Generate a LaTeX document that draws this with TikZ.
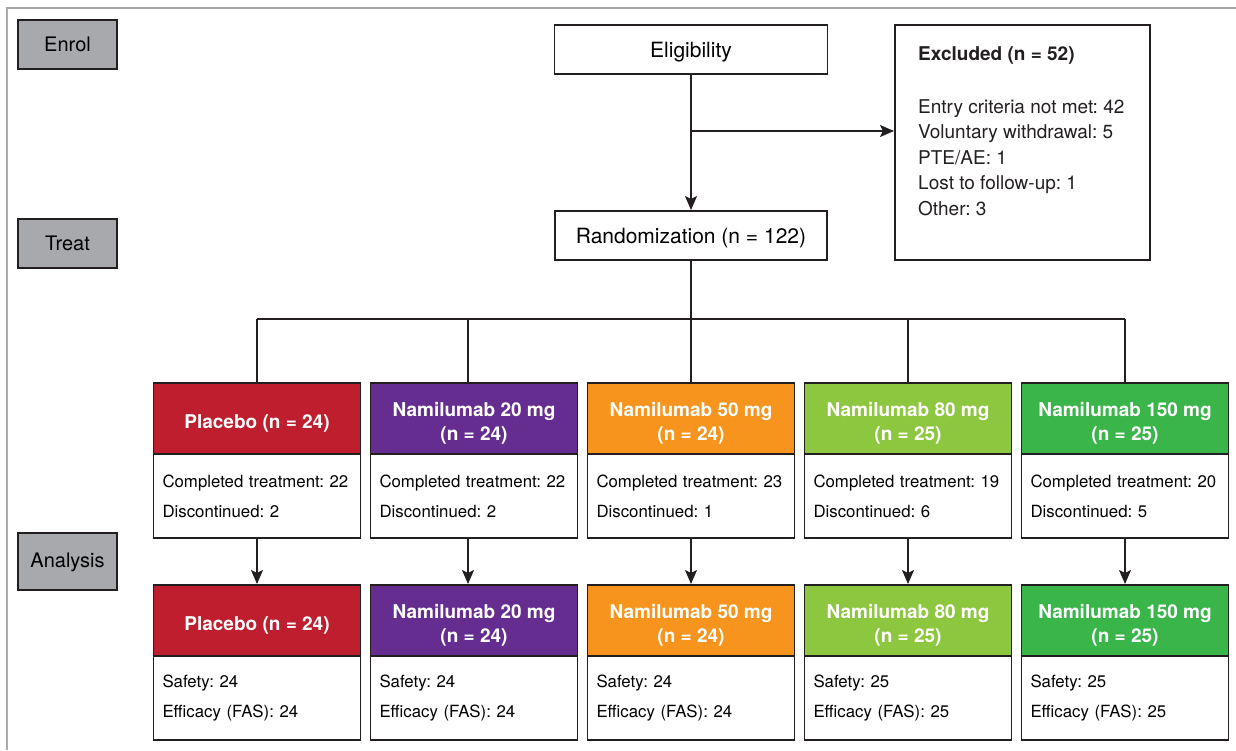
\documentclass[tikz,border=0pt]{standalone}
\usepackage{fontspec}
\setmainfont{TeX Gyre Heros}
\usepackage{tikz}
\usetikzlibrary{positioning}
\usetikzlibrary{arrows.meta}

\definecolor{inkblack}{RGB}{35,31,32}
\definecolor{framegray}{RGB}{170,170,170}
\definecolor{stagegray}{RGB}{167,169,172}
\definecolor{placebored}{RGB}{190,30,45}
\definecolor{nampurple}{RGB}{102,45,145}
\definecolor{namorange}{RGB}{247,148,29}
\definecolor{namlime}{RGB}{141,198,63}
\definecolor{namgreen}{RGB}{57,181,74}

\frenchspacing

\begin{document}
\begin{tikzpicture}[%
    x=1pt, y=-1pt,
    >={Stealth[length=14pt,width=12pt,inset=3pt]},
    stage/.style={%
      rectangle,
      draw=inkblack,
      fill=stagegray,
      line width=1.3pt,
      minimum width=99pt,
      minimum height=49pt,
      outer sep=0pt,
      font=\fontsize{20}{24}\selectfont
    },
    flowbox/.style={%
      rectangle,
      draw=inkblack,
      line width=1.3pt,
      minimum height=49pt,
      outer sep=0pt,
      execute at begin node={\rule{0pt}{21pt}},
      font=\fontsize{21}{25}\selectfont
    },
    armhead/.style={%
      rectangle,
      draw=inkblack,
      line width=1.3pt,
      minimum width=207pt,
      minimum height=71pt,
      outer sep=0pt,
      text=white,
      align=center,
      font=\bfseries\fontsize{19}{24}\selectfont
    },
    onehead/.style={armhead, execute at begin node={\rule{0pt}{23pt}}},
    twohead/.style={armhead, execute at begin node={\rule{0pt}{47pt}}},
    armbody/.style={%
      rectangle,
      draw=inkblack,
      fill=white,
      line width=1.3pt,
      minimum width=207pt,
      minimum height=84pt,
      text width=189pt,
      inner xsep=9pt,
      outer sep=0pt,
      align=left,
      font=\fontsize{16.8}{30}\selectfont
    },
    link/.style={draw=inkblack, line width=1.5pt},
    arrowlink/.style={link, ->, shorten >=1pt}
  ]
  \useasboundingbox (0,0) rectangle (1236,750);
  \draw[framegray, line width=2pt] (7,750) -- (7,8) -- (1236,8);
  % Nodes: stages
    \node[stage] (enrol) at (67.5,44.5)              {Enrol};
    \node[stage] (treat) [below=150pt of enrol]      {Treat};
    \node[stage, minimum height=57pt] (analysis) [below=265pt of treat] {\rule{0pt}{17pt}Analysis};
  % Nodes: enrolment
    \node[flowbox, minimum width=273pt] (elig) at (691,49.5) {Eligibility};
    \node[flowbox, minimum width=272pt] (rand) [below=137pt of elig] {Randomization (n = 122)};
    \node[rectangle, draw=inkblack, line width=1.3pt, minimum width=255pt,
          minimum height=235pt, outer sep=0pt] (exclbox)
          [below right=0pt and 67.5pt of elig.north east] {};
    \node[inner sep=0pt, align=left, text=inkblack,
          font=\fontsize{19}{25.5}\selectfont] (excltext)
          [below right=21.5pt and 23pt of exclbox.north west]
          {\textbf{Excluded (n = 52)}\\[27pt]
           Entry criteria not met: 42\\
           Voluntary withdrawal: 5\\
           PTE/AE: 1\\
           Lost to follow-up: 1\\
           Other: 3};
  % Nodes: treatment arms
    \node[onehead, fill=placebored] (t1) at (257,418.5) {Placebo (n = 24)};
    \node[twohead, fill=nampurple] (t2) [right=10pt of t1] {Namilumab 20 mg\\(n = 24)};
    \node[twohead, fill=namorange] (t3) [right=10pt of t2] {Namilumab 50 mg\\(n = 24)};
    \node[twohead, fill=namlime]   (t4) [right=10pt of t3] {Namilumab 80 mg\\(n = 25)};
    \node[twohead, fill=namgreen]  (t5) [right=10pt of t4] {Namilumab 150 mg\\(n = 25)};
    \node[armbody] (tb1) [below=0pt of t1] {Completed treatment: 22\\Discontinued: 2};
    \node[armbody] (tb2) [below=0pt of t2] {Completed treatment: 22\\Discontinued: 2};
    \node[armbody] (tb3) [below=0pt of t3] {Completed treatment: 23\\Discontinued: 1};
    \node[armbody] (tb4) [below=0pt of t4] {Completed treatment: 19\\Discontinued: 6};
    \node[armbody] (tb5) [below=0pt of t5] {Completed treatment: 20\\Discontinued: 5};
  % Nodes: analysis sets
    \node[onehead, fill=placebored] (a1) [below=47pt of tb1] {Placebo (n = 24)};
    \node[twohead, fill=nampurple] (a2) [below=47pt of tb2] {Namilumab 20 mg\\(n = 24)};
    \node[twohead, fill=namorange] (a3) [below=47pt of tb3] {Namilumab 50 mg\\(n = 24)};
    \node[twohead, fill=namlime]   (a4) [below=47pt of tb4] {Namilumab 80 mg\\(n = 25)};
    \node[twohead, fill=namgreen]  (a5) [below=47pt of tb5] {Namilumab 150 mg\\(n = 25)};
    \node[armbody] (ab1) [below=0pt of a1] {Safety: 24\\Efficacy (FAS): 24};
    \node[armbody] (ab2) [below=0pt of a2] {Safety: 24\\Efficacy (FAS): 24};
    \node[armbody] (ab3) [below=0pt of a3] {Safety: 24\\Efficacy (FAS): 24};
    \node[armbody] (ab4) [below=0pt of a4] {Safety: 25\\Efficacy (FAS): 25};
    \node[armbody] (ab5) [below=0pt of a5] {Safety: 25\\Efficacy (FAS): 25};
  % Paths:
    \coordinate (split) at (691,131);
    \coordinate (bus) at (691,319);
    \coordinate (drop2) at ([xshift=-6pt]t2.north);
    \coordinate (out2) at ([xshift=-6pt]tb2.south);
    \coordinate (in2) at ([xshift=-6pt]a2.north);
    \draw[arrowlink] (elig) -- (rand);
    \draw[arrowlink] (split) -- (split -| exclbox.west);
    \draw[link] (rand) -- (bus);
    \draw[link] (bus -| t1.north) -- (bus -| t5.north);
    \path (bus -| t1.north) edge[link] (t1)
          (bus -| drop2)    edge[link] (drop2)
          (bus -| t3.north) edge[link] (t3)
          (bus -| t4.north) edge[link] (t4)
          (bus -| t5.north) edge[link] (t5);
    \path (tb1)  edge[arrowlink] (a1)
          (out2) edge[arrowlink] (in2)
          (tb3)  edge[arrowlink] (a3)
          (tb4)  edge[arrowlink] (a4)
          (tb5)  edge[arrowlink] (a5);
\end{tikzpicture}
\end{document}
